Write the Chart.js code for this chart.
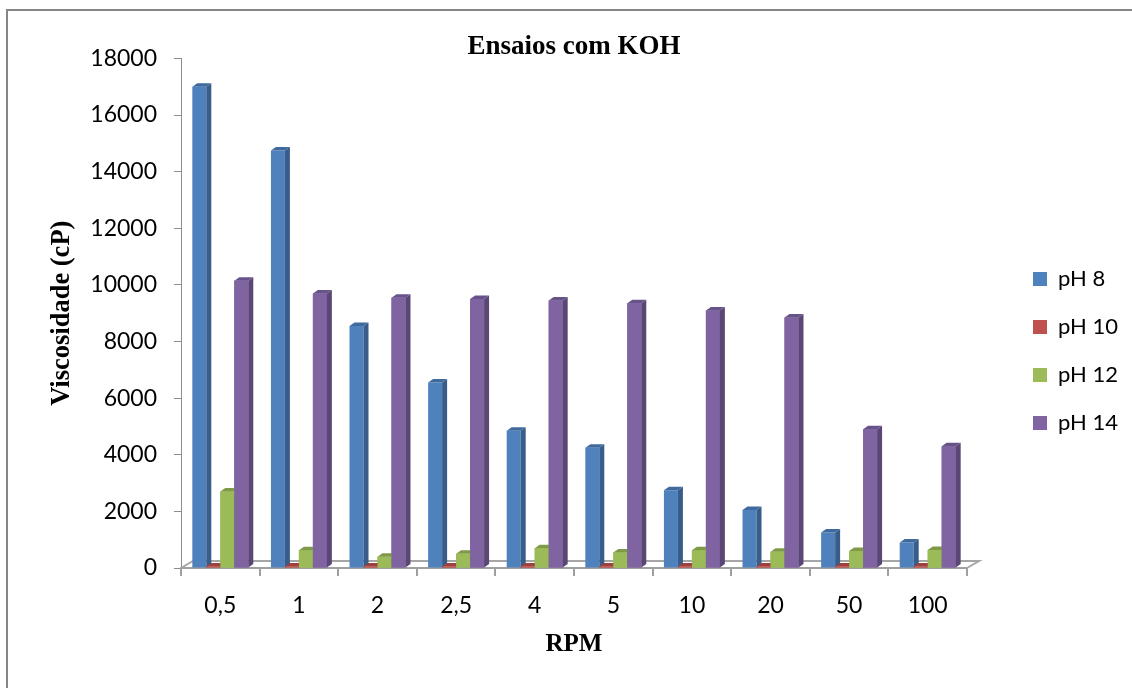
<!DOCTYPE html>
<html>
<head>
<meta charset="utf-8">
<title>Ensaios com KOH</title>
<script src="https://cdn.jsdelivr.net/npm/chart.js@4.4.0/dist/chart.umd.min.js"></script>
<style>
  html, body { margin: 0; padding: 0; background: #fff; }
  canvas { display: block; }
</style>
</head>
<body>
<canvas id="chart" width="1132" height="688"></canvas>
<script>
// valores (viscosidade em cP)
const rpm  = ['0,5', '1', '2', '2,5', '4', '5', '10', '20', '50', '100'];
const ph8  = [17000, 14750, 8550, 6550, 4850, 4250, 2750, 2050, 1250, 900];
const ph10 = [50, 50, 50, 50, 50, 50, 50, 50, 50, 50];
const ph12 = [2700, 630, 400, 500, 700, 550, 630, 570, 600, 640];
const ph14 = [10150, 9700, 9550, 9500, 9450, 9350, 9100, 8850, 4900, 4300];
const seriesNames = ['pH 8', 'pH 10', 'pH 12', 'pH 14'];
const yMax = 18000;
const yStep = 2000;

// cores: frente, lateral, topo
const frontColors = ['#4F81BD', '#C0504D', '#9BBB59', '#8064A2'];
const sideColors  = ['#385D8A', '#8C3A38', '#71893F', '#5A4775'];
const topColors   = ['#3F6A9E', '#9E403D', '#7E9A46', '#67528A'];

// moldura cinza
const frame = {
  id: 'frame',
  beforeDraw(chart) {
    const ctx = chart.ctx;
    ctx.save();
    ctx.fillStyle = '#fff';
    ctx.fillRect(0, 0, chart.width, chart.height);
    ctx.strokeStyle = '#868686';
    ctx.lineWidth = 2;
    ctx.strokeRect(7, 10, chart.width + 20, chart.height + 20);
    ctx.restore();
  }
};

// piso 3D
const floor = {
  id: 'floor',
  beforeDatasetsDraw(chart) {
    const { ctx, chartArea: a } = chart;
    const dx = 12, dy = 7;
    ctx.save();
    ctx.strokeStyle = '#a6a6a6';
    ctx.lineWidth = 2;
    ctx.beginPath();
    ctx.moveTo(a.left, a.bottom);
    ctx.lineTo(a.left + dx, a.bottom - dy);
    ctx.lineTo(a.right + dx, a.bottom - dy);
    ctx.lineTo(a.right, a.bottom);
    ctx.stroke();
    ctx.restore();
  }
};

// faces laterais e topo das colunas
const bars3d = {
  id: 'bars3d',
  afterDatasetsDraw(chart) {
    const ctx = chart.ctx;
    const dx = 5, dy = 3.5;
    const n = chart.data.datasets.length;
    ctx.save();
    for (let d = 0; d < n; d++) {
      const meta = chart.getDatasetMeta(d);
      const next = d + 1 < n ? chart.getDatasetMeta(d + 1) : null;
      meta.data.forEach((bar, i) => {
        const { x, y, base, width } = bar.getProps(['x', 'y', 'base', 'width'], true);
        const l = x - width / 2, r = x + width / 2;
        ctx.fillStyle = sideColors[d];
        ctx.beginPath();
        ctx.moveTo(r, y);
        ctx.lineTo(r + dx, y - dy);
        ctx.lineTo(r + dx, base - dy);
        ctx.lineTo(r, base);
        ctx.closePath();
        ctx.fill();
        ctx.fillStyle = topColors[d];
        ctx.beginPath();
        ctx.moveTo(l, y);
        ctx.lineTo(l + dx, y - dy);
        ctx.lineTo(r + dx, y - dy);
        ctx.lineTo(r, y);
        ctx.closePath();
        ctx.fill();
        // a coluna seguinte tapa a lateral desta
        if (next) {
          const nb = next.data[i].getProps(['x', 'y', 'base', 'width'], true);
          ctx.fillStyle = frontColors[d + 1];
          ctx.fillRect(nb.x - nb.width / 2, nb.y, nb.width, nb.base - nb.y);
        }
      });
    }
    ctx.restore();
  }
};

// posição da legenda
const legendPlace = {
  id: 'legendPlace',
  beforeLayout(chart) {
    const lg = chart.legend;
    if (lg && !lg._fixed) {
      const fit = lg.fit;
      lg.fit = function () { fit.call(this); this.width = 165; };
      lg._fixed = true;
    }
  },
  afterLayout(chart) {
    const lg = chart.legend;
    if (!lg) return;
    lg.left = 1007;
    lg.right = lg.left + lg.width;
    lg.top = 242;
    lg.bottom = 688;
  }
};

const values = [ph8, ph10, ph12, ph14];

new Chart(document.getElementById('chart'), {
  type: 'bar',
  data: {
    labels: rpm,
    datasets: values.map((v, i) => ({
      label: seriesNames[i],
      data: v,
      backgroundColor: frontColors[i],
      borderWidth: 0,
      categoryPercentage: 0.712,
      barPercentage: 1
    }))
  },
  options: {
    responsive: false,
    animation: false,
    devicePixelRatio: 1,
    layout: { padding: { top: 10, left: 46, right: 0, bottom: 28 } },
    plugins: {
      tooltip: { enabled: false },
      title: {
        display: true,
        text: 'Ensaios com KOH',
        fullSize: false,
        color: '#000',
        font: { family: 'Liberation Serif', size: 27, weight: 'bold', lineHeight: 0.85 },
        padding: { top: 25.5, bottom: 0 }
      },
      legend: {
        position: 'right',
        align: 'start',
        labels: {
          color: '#000',
          font: { family: 'Lato', size: 22 },
          boxWidth: 14,
          boxHeight: 14,
          padding: 26
        }
      }
    },
    scales: {
      x: {
        z: 1,
        offset: true,
        grid: { offset: true, drawOnChartArea: false, tickLength: 8, color: '#a0a0a0', lineWidth: 2 },
        border: { color: '#a0a0a0', width: 2 },
        ticks: { color: '#000', font: { family: 'Lato', size: 23 }, padding: 16 },
        title: {
          display: true,
          text: 'RPM',
          color: '#000',
          font: { family: 'Liberation Serif', size: 25, weight: 'bold' },
          padding: { top: 0, bottom: 0 }
        },
        afterFit(s) { s.height = 92; }
      },
      y: {
        min: 0,
        max: yMax,
        ticks: {
          stepSize: yStep,
          color: '#000',
          font: { family: 'Lato', size: 23 },
          padding: 17,
          callback: (v) => String(v)
        },
        grid: { drawOnChartArea: false, tickLength: 7, color: '#8c8c8c' },
        border: { color: '#8c8c8c', width: 1 },
        title: {
          display: true,
          text: 'Viscosidade (cP)',
          color: '#000',
          font: { family: 'Liberation Serif', size: 26.5, weight: 'bold' },
          padding: { top: 0, bottom: 0 }
        },
        afterFit(s) { s.width = 135; }
      }
    }
  },
  plugins: [frame, floor, bars3d, legendPlace]
});
</script>
</body>
</html>
